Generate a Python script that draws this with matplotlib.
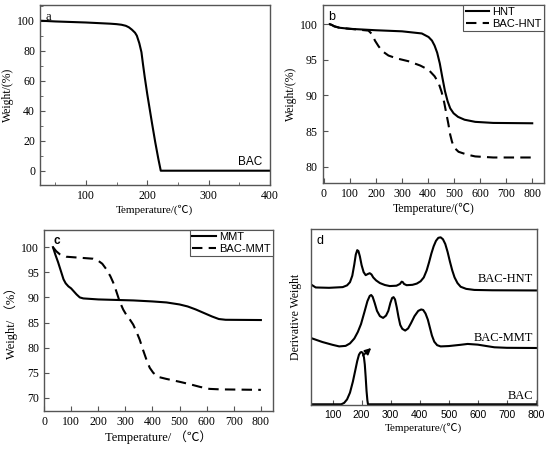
import matplotlib
matplotlib.use("Agg")
import matplotlib.pyplot as plt
from matplotlib.ticker import MultipleLocator

plt.rcParams["font.family"] = ["Liberation Serif", "Noto Sans CJK SC", "DejaVu Sans"]
plt.rcParams["font.size"] = 8.5

SANS = ["Liberation Sans", "DejaVu Sans"]
FRAME = "#555555"

# %% Data - panel a (BAC TGA)
bac_t = [25, 50, 100, 140, 150, 158, 165, 170, 175, 180, 183, 187, 190.5, 193, 196, 200, 204, 208,
         213, 218, 222, 300, 400]
bac_w = [100, 99.5, 98.8, 98.0, 97.7, 97.3, 96.6, 95.6, 94.0, 92.0, 90.0, 85.0, 79.0, 71.0, 62.0,
         51.0, 41.0, 31.0, 19.0, 8.0, 0, 0, 0]

# %% Data - panel b (HNT / BAC-HNT TGA)
hnt_t = [22, 30, 40, 60, 100, 200, 300, 376, 402, 415, 425, 435, 445, 455, 465, 475, 485, 498, 515,
         540, 581, 650, 800]
hnt_w = [100, 99.9, 99.7, 99.5, 99.35, 99.15, 99.0, 98.7, 98.2, 97.7, 97.0, 96.0, 94.5, 92.5, 90.6,
         89.2, 88.2, 87.5, 87.0, 86.6, 86.3, 86.15, 86.1]
bachnt_t = [22, 30, 40, 60, 100, 171, 185, 196, 210, 225, 248, 280, 325, 370, 402, 425, 440, 452,
            462, 470, 478, 485, 492, 500, 517, 550, 581, 650, 800]
bachnt_w = [100, 99.9, 99.7, 99.5, 99.35, 99.1, 98.6, 97.7, 96.9, 96.2, 95.6, 95.2, 94.8, 94.2, 93.6,
            92.7, 91.8, 90.5, 89.0, 87.5, 86.0, 84.5, 83.5, 82.7, 82.1, 81.7, 81.45, 81.3, 81.3]

# %% Data - panel c (MMT / BAC-MMT TGA)
mmt_t = [33, 42, 52, 62, 72, 80, 90, 100, 110, 120, 132, 145, 200, 330, 400, 452, 500, 530, 560,
         590, 620, 645, 670, 800]
mmt_w = [100, 98.5, 97.0, 95.3, 93.6, 92.8, 92.2, 91.8, 91.2, 90.6, 90.0, 89.8, 89.6, 89.4, 89.2,
         89.0, 88.6, 88.2, 87.6, 86.9, 86.2, 85.7, 85.55, 85.5]
bacmmt_t = [33, 45, 58, 82, 132, 181, 200, 215, 230, 245, 255, 265, 279, 292, 304, 318, 329, 340,
            353, 365, 378, 390, 403, 420, 450, 501, 540, 575, 610, 650, 800]
bacmmt_w = [100, 99.2, 98.6, 98.1, 97.9, 97.7, 97.3, 96.7, 95.6, 94.2, 93.0, 91.5, 89.2, 87.6, 86.5,
            85.5, 84.6, 83.3, 81.6, 79.6, 77.6, 76.0, 75.0, 74.2, 73.8, 73.2, 72.7, 72.2, 71.8, 71.7,
            71.6]

# %% Data - panel d (DTG curves, arbitrary units)
dtg_bac_t = [25, 130, 140, 150, 160, 170, 178, 185, 191, 196, 200, 204, 208, 211, 214, 217, 220,
             222, 400, 800]
dtg_bac_y = [0.4, 0.4, 1.2, 3.2, 7.0, 13.3, 19.5, 25.0, 28.6, 29.9, 30.1, 29.5, 27.2, 23.0, 16.0,
             8.0, 2.5, 0.4, 0.4, 0.4]
dtg_mmt_t = [25, 65, 100, 123, 145, 160, 175, 187, 198, 210, 220, 228, 233, 238, 245, 253, 263, 274,
             284, 292, 299, 305, 310, 315, 321, 327, 333, 340, 350, 360, 370, 382, 395, 405, 412, 420,
             428, 435, 442, 450, 460, 472, 500, 540, 565, 600, 630, 657, 700, 800]
dtg_mmt_y = [38.1, 35.8, 34.2, 33.3, 33.6, 35.0, 37.8, 41.5, 46.0, 53.0, 59.0, 62.0, 62.5, 61.5, 58.0,
             53.5, 50.5, 49.5, 50.8, 53.5, 58.0, 60.8, 61.3, 60.0, 55.5, 50.0, 45.5, 43.3, 42.3, 43.5,
             46.5, 50.5, 53.5, 54.3, 54.0, 52.0, 48.5, 44.0, 39.5, 36.0, 34.0, 33.3, 33.5, 34.2, 34.7,
             34.3, 33.5, 32.8, 32.5, 32.4]
dtg_hnt_t = [25, 42, 88, 135, 150, 160, 168, 175, 180, 185, 189, 194, 200, 207, 214, 222, 228, 234,
             240, 250, 263, 280, 297, 320, 332, 338, 342, 346, 355, 375, 390, 403, 414, 424, 432, 440,
             448, 456, 464, 472, 480, 488, 496, 504, 512, 520, 530, 541, 560, 588, 650, 800]
dtg_hnt_y = [68.6, 66.8, 66.6, 67.0, 68.0, 69.8, 73.5, 80.0, 85.5, 88.0, 87.5, 84.5, 79.5, 75.5, 73.8,
             74.5, 74.9, 74.2, 72.5, 70.8, 69.3, 68.2, 67.6, 67.8, 68.8, 70.1, 69.8, 68.8, 68.1, 68.3,
             69.0, 70.3, 72.5, 76.5, 81.0, 86.0, 90.2, 93.3, 95.0, 95.3, 94.2, 91.5, 87.0, 81.5, 76.5,
             72.5, 69.3, 67.2, 66.0, 65.4, 65.2, 65.1]


def style_axes(ax):
    for s in ax.spines.values():
        s.set_color(FRAME)
        s.set_linewidth(1.0)
    ax.tick_params(which="both", direction="in", color=FRAME, top=False, right=False)
    ax.tick_params(which="major", length=3.5)
    ax.tick_params(which="minor", length=2)


def add_legend(ax):
    leg = ax.legend(loc="upper right", prop={"family": SANS, "size": 8}, fancybox=False,
                    borderaxespad=0, handlelength=2.1, borderpad=0.2, labelspacing=0.15,
                    handletextpad=0.3, framealpha=1)
    leg.get_frame().set_edgecolor(FRAME)
    leg.get_frame().set_linewidth(0.8)


fig = plt.figure(figsize=(5.5, 4.5), dpi=100)

# %% Panel a
ax1 = fig.add_axes([0.0727, 0.589, 0.418, 0.40])
ax1.plot(bac_t, bac_w, color="black", lw=1.5)
ax1.set_xlim(25, 400)
ax1.set_ylim(-9.5, 110.5)
ax1.xaxis.set_major_locator(MultipleLocator(100))
ax1.xaxis.set_minor_locator(MultipleLocator(50))
ax1.yaxis.set_major_locator(MultipleLocator(20))
ax1.yaxis.set_minor_locator(MultipleLocator(10))
ax1.set_xlabel("Temperature/(\u2103)", fontsize=8, labelpad=2)
ax1.set_ylabel("Weight/(%)", fontsize=8.5, labelpad=2)
ax1.text(368, 5.5, "BAC", family=SANS, fontsize=8.5, ha="center", va="center")
ax1.text(0.025, 0.965, "a", transform=ax1.transAxes, fontsize=9, va="top")
style_axes(ax1)

# %% Panel b
ax2 = fig.add_axes([0.587, 0.593, 0.402, 0.396])
ax2.plot(hnt_t, hnt_w, color="black", lw=1.5, label="HNT")
ax2.plot(bachnt_t, bachnt_w, color="black", lw=1.5, ls=(0, (5, 3)), label="BAC-HNT")
ax2.set_xlim(-4, 845)
ax2.set_ylim(77.7, 102.7)
ax2.xaxis.set_major_locator(MultipleLocator(100))
ax2.yaxis.set_major_locator(MultipleLocator(5))
ax2.set_xlabel("Temperature/(\u2103)", fontsize=8.5, labelpad=2)
ax2.set_ylabel("Weight/(%)", fontsize=8.5, labelpad=2)
ax2.text(0.025, 0.965, "b", transform=ax2.transAxes, family=SANS, fontsize=9, va="top")
add_legend(ax2)
style_axes(ax2)

# %% Panel c
ax3 = fig.add_axes([0.08, 0.0867, 0.416, 0.402])
ax3.plot(mmt_t, mmt_w, color="black", lw=1.5, label="MMT")
ax3.plot(bacmmt_t, bacmmt_w, color="black", lw=1.5, ls=(0, (5, 3)), label="BAC-MMT")
ax3.set_xlim(0, 844)
ax3.set_ylim(67.4, 103.4)
ax3.xaxis.set_major_locator(MultipleLocator(100))
ax3.yaxis.set_major_locator(MultipleLocator(5))
ax3.set_xlabel("Temperature/ \uff08\u2103\uff09", fontsize=9, labelpad=2)
ax3.set_ylabel("Weight/ \uff08%\uff09", fontsize=9, labelpad=2)
ax3.text(0.04, 0.975, "c", transform=ax3.transAxes, family=SANS, fontsize=8.5,
         fontweight="bold", va="top")
add_legend(ax3)
style_axes(ax3)

# %% Panel d
ax4 = fig.add_axes([0.565, 0.10, 0.411, 0.391])
ax4.plot(dtg_bac_t, dtg_bac_y, color="black", lw=1.5)
ax4.plot(dtg_mmt_t, dtg_mmt_y, color="black", lw=1.5)
ax4.plot(dtg_hnt_t, dtg_hnt_y, color="black", lw=1.5)
ax4.set_xlim(25, 803)
ax4.set_ylim(0, 100)
ax4.xaxis.set_major_locator(MultipleLocator(100))
ax4.set_yticks([])
ax4.set_xlabel("Temperature/(\u2103)", fontsize=8, labelpad=2)
ax4.set_ylabel("Derivative Weight", fontsize=8.5, labelpad=6)
ax4.text(790, 71.4, "BAC-HNT", ha="right", va="center", fontsize=9)
ax4.text(790, 38.0, "BAC-MMT", ha="right", va="center", fontsize=9)
ax4.text(790, 5.0, "BAC", ha="right", va="center", fontsize=9)
ax4.annotate("", xy=(240, 33.5), xytext=(198, 27),
             arrowprops=dict(arrowstyle="-|>", color="black", lw=1.3, mutation_scale=9))
ax4.text(0.025, 0.965, "d", transform=ax4.transAxes, family=SANS, fontsize=9, va="top")
style_axes(ax4)
ax4.tick_params(axis="x", labelfontfamily="Liberation Sans", labelsize=7.5)

fig.savefig("out.png", dpi=100)
